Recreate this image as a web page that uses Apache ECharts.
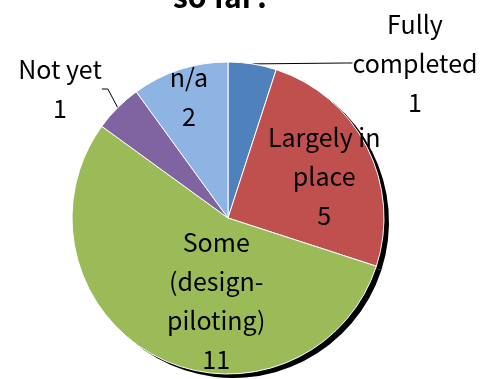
<!DOCTYPE html>
<html>
<head>
<meta charset="utf-8">
<script src="https://cdn.jsdelivr.net/npm/echarts@6/dist/echarts.min.js"></script>
<style>
  html, body { margin: 0; padding: 0; background: #fff; }
  #chart { width: 481px; height: 379px; }
</style>
</head>
<body>
<div id="chart"></div>
<script>
const categories = ['Fully\ncompleted', 'Largely in\nplace', 'Some\n(design-\npiloting)', 'Not yet', 'n/a']
const values = [1, 5, 11, 1, 2]
const colors = ['#4F81BD', '#C0504D', '#9BBB59', '#8064A2', '#8EB4E3']

const FONT = '"Noto Sans CJK JP", "Liberation Sans", sans-serif'
const center = [228, 218]
const radius = 156

// label shifts relative to ECharts' default spot
const shifts = [
    { x: 415, y: 63, align: 'center', verticalAlign: 'middle' },   // outside, absolute
    { dx: 24, dy: -5 },
    { dx: 25, dy: 11 },
    { x: 60, y: 89, align: 'center', verticalAlign: 'middle' },    // outside, absolute
    { dx: -14, dy: -44 }
]

const chart = echarts.init(document.getElementById('chart'))
chart.setOption({
    animation: false,
    title: {
        text: 'so far?',
        left: 168,
        top: -23,
        textStyle: { fontFamily: FONT, fontSize: 30, fontWeight: 'bold', color: '#000' }
    },
    series: [
        {
            // drop shadow
            type: 'pie',
            silent: true,
            center: [center[0] + 5, center[1] + 4],
            radius: radius,
            startAngle: 90,
            clockwise: true,
            label: { show: false },
            labelLine: { show: false },
            itemStyle: { color: '#000' },
            data: values.map((v, i) => ({ name: categories[i], value: v }))
        },
        {
            type: 'pie',
            center: center,
            radius: radius,
            startAngle: 90,
            clockwise: true,
            avoidLabelOverlap: false,
            itemStyle: { borderColor: '#fff', borderWidth: 1 },
            label: {
                show: true,
                position: 'inside',
                formatter: p => p.name + '\n' + p.value,
                fontFamily: FONT,
                fontSize: 25,
                lineHeight: 39,
                color: '#000',
                align: 'center'
            },
            labelLine: { show: false },
            labelLayout: p => shifts[p.dataIndex],
            data: values.map((v, i) => {
                const outside = i === 0 || i === 3
                return {
                    name: categories[i],
                    value: v,
                    itemStyle: { color: colors[i] },
                    label: outside ? { position: 'outside' } : undefined,
                    labelLine: outside ? { show: true, length: 6, length2: 6, lineStyle: { color: '#000', width: 1 } } : undefined
                }
            })
        }
    ]
})
</script>
</body>
</html>
